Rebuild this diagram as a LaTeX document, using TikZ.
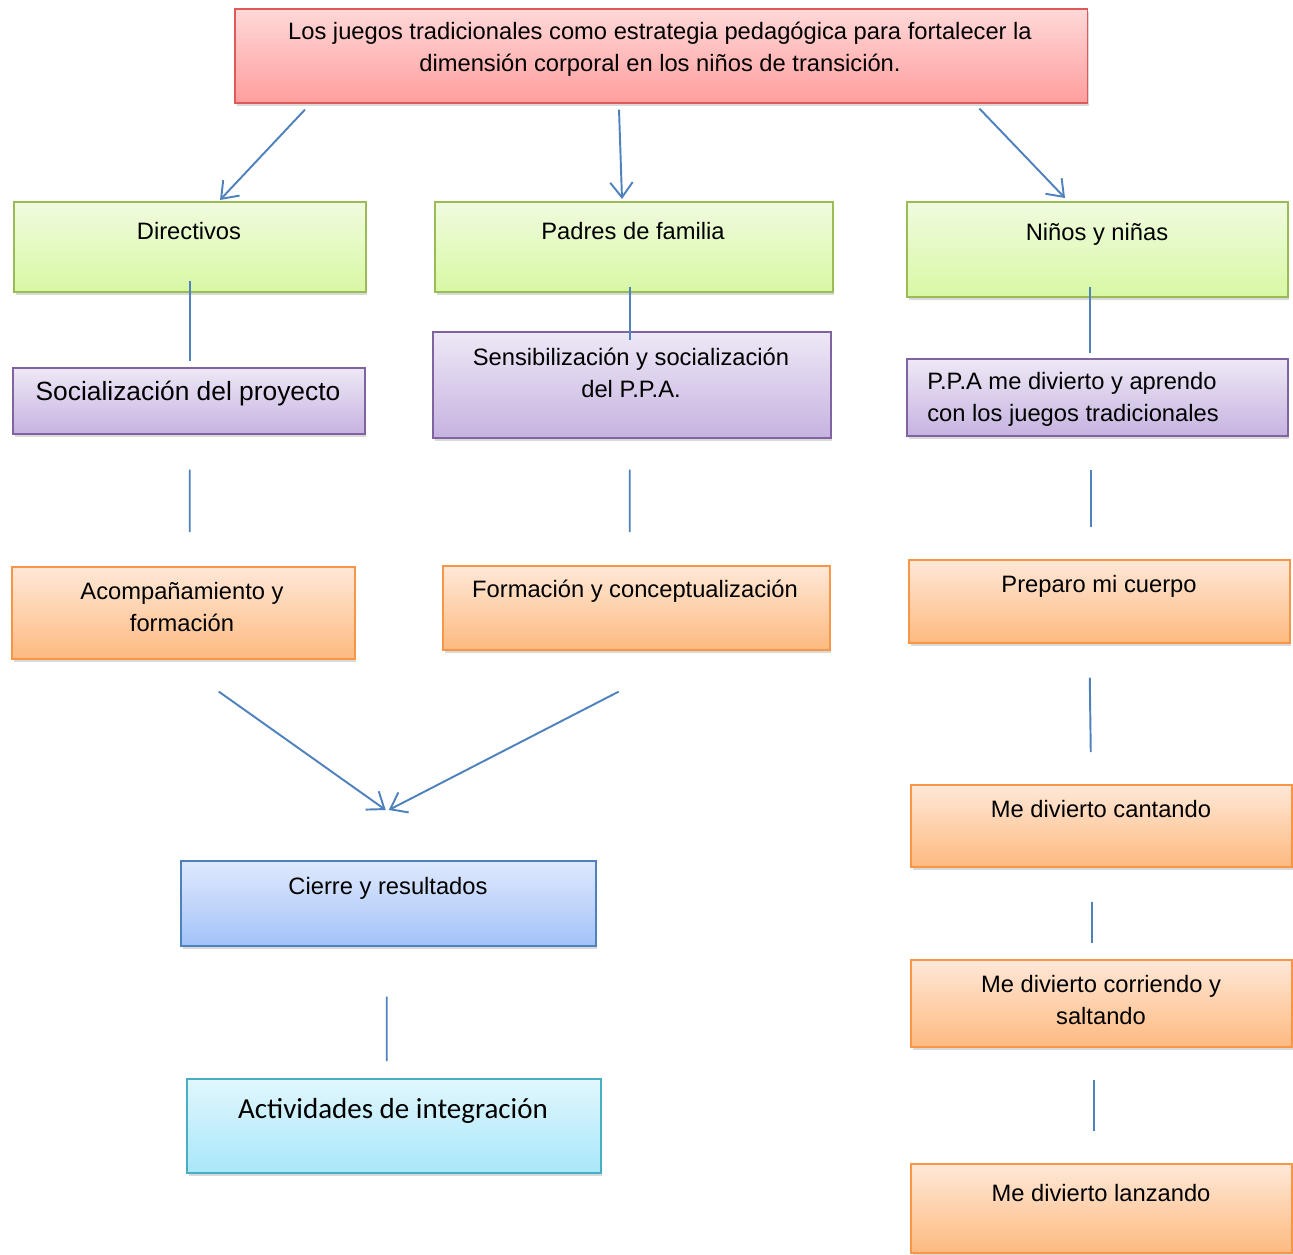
\documentclass[tikz,border=0pt]{standalone}
\usepackage{fontspec}
\setmainfont{Liberation Sans}
\newfontfamily\calibri{Carlito}
\usepackage{tikz}
\usetikzlibrary{arrows.meta,shadows}

\definecolor{linea}{HTML}{4F81BD}
\definecolor{bRojo}{HTML}{E05A5A}
\definecolor{bVerde}{HTML}{9BBB59}
\definecolor{bMorado}{HTML}{8064A2}
\definecolor{bNaranja}{HTML}{F79646}
\definecolor{bAzul}{HTML}{4F81BD}
\definecolor{bCian}{HTML}{4BACC6}
\definecolor{rojoA}{HTML}{FFD8D8}
\definecolor{rojoB}{HTML}{FF9E9E}
\definecolor{verdeA}{HTML}{F0FBDF}
\definecolor{verdeB}{HTML}{D8F8A4}
\definecolor{moradoA}{HTML}{EEE8F6}
\definecolor{moradoB}{HTML}{C6B3E0}
\definecolor{naranjaA}{HTML}{FFE8D8}
\definecolor{naranjaB}{HTML}{FDBA80}
\definecolor{azulA}{HTML}{DFE9FD}
\definecolor{azulB}{HTML}{A3C2F8}
\definecolor{cianA}{HTML}{E1F7FD}
\definecolor{cianB}{HTML}{A8E7FA}

\begin{document}
\begin{tikzpicture}[x=0.02cm,y=-0.02cm,
  caja/.style={draw,line width=0.9pt,inner sep=0pt,anchor=north west,
    drop shadow={opacity=0.3,shadow xshift=1pt,shadow yshift=-1.6pt}},
  roja/.style={caja,draw=bRojo,top color=rojoA,bottom color=rojoB},
  verde/.style={caja,draw=bVerde,top color=verdeA,bottom color=verdeB},
  morada/.style={caja,draw=bMorado,top color=moradoA,bottom color=moradoB},
  naranja/.style={caja,draw=bNaranja,top color=naranjaA,bottom color=naranjaB},
  azul/.style={caja,draw=bAzul,top color=azulA,bottom color=azulB},
  cian/.style={caja,draw=bCian,top color=cianA,bottom color=cianB},
  txt/.style={font=\fontsize{13.5}{18.2}\selectfont,align=center,inner sep=0pt},
  con/.style={draw=linea,line width=1.1pt},
  flecha/.style={con,-{Straight Barb[length=3mm,width=4.5mm]}}]
\useasboundingbox (0,0) rectangle (1293,1254);

% cajas
\node[roja,minimum width=17.06cm,minimum height=1.88cm] (tema) at (234,8) {};
\node[verde,minimum width=7.04cm,minimum height=1.8cm] (dir) at (13,201) {};
\node[verde,minimum width=7.96cm,minimum height=1.8cm] (pad) at (434,201) {};
\node[verde,minimum width=7.62cm,minimum height=1.9cm] (nin) at (906,201) {};
\node[morada,minimum width=7.04cm,minimum height=1.32cm] (soc) at (12,367) {};
\node[morada,minimum width=7.96cm,minimum height=2.12cm] (sen) at (432,331) {};
\node[morada,minimum width=7.62cm,minimum height=1.54cm] (ppa) at (906,358) {};
\node[naranja,minimum width=6.86cm,minimum height=1.84cm] (aco) at (11,566) {};
\node[naranja,minimum width=7.74cm,minimum height=1.68cm] (form) at (442,565) {};
\node[naranja,minimum width=7.62cm,minimum height=1.66cm] (pre) at (908,559) {};
\node[naranja,minimum width=7.62cm,minimum height=1.64cm] (can) at (910,784) {};
\node[naranja,minimum width=7.62cm,minimum height=1.74cm] (cor) at (910,959) {};
\node[naranja,minimum width=7.62cm,minimum height=1.78cm] (lan) at (910,1163) {};
\node[azul,minimum width=8.3cm,minimum height=1.7cm] (cie) at (180,860) {};
\node[cian,minimum width=8.28cm,minimum height=1.88cm] (act) at (186,1078) {};

% textos
\node[txt] (tema-t) at (660,49) {Los juegos tradicionales como estrategia pedagógica para fortalecer la\\dimensión corporal en los niños de transición.};
\node[txt] (dir-t) at (189,231) {Directivos};
\node[txt] (pad-t) at (633,231) {Padres de familia};
\node[txt] (nin-t) at (1097,234) {Niños y niñas};
\node[txt,font=\fontsize{15}{18}\selectfont] (soc-t) at (188,394) {Socialización del proyecto};
\node[txt] (sen-t) at (631,373) {Sensibilización y socialización\\del P.P.A.};
\node[txt,align=left,anchor=west] (ppa-t) at (927,399) {P.P.A me divierto y aprendo\\con los juegos tradicionales};
\node[txt] (aco-t) at (182,607) {Acompañamiento y\\formación};
\node[txt] (form-t) at (635,591) {Formación y conceptualización};
\node[txt] (pre-t) at (1099,586) {Preparo mi cuerpo};
\node[txt] (can-t) at (1101,809) {Me divierto cantando};
\node[txt] (cor-t) at (1101,1000) {Me divierto corriendo y\\saltando};
\node[txt] (lan-t) at (1101,1193) {Me divierto lanzando};
\node[txt] (cie-t) at (388,888) {Cierre y resultados};
\node[txt,font=\calibri\fontsize{16.5}{20}\selectfont] (act-t) at (393,1111) {Actividades de integración};

% flechas
\draw[flecha] ([shift={(71,6)}]tema.south west) -- ([shift={(207,-1)}]dir.north west);
\draw[flecha] ([shift={(385,6)}]tema.south west) -- ([shift={(188,-2)}]pad.north west);
\draw[flecha] ([shift={(-109,5)}]tema.south east) -- ([shift={(159,-3)}]nin.north west);
\draw[flecha] ([shift={(35.5,32)}]aco.south) -- ([shift={(-2.5,-50)}]cie.north);
\draw[flecha] ([shift={(-17.5,41)}]form.south) -- ([shift={(0.5,-50)}]cie.north);

% lineas
\draw[con] ([shift={(0,-12)}]dir.south) -- ([shift={(1,-6)}]soc.north);
\draw[con] ([shift={(-4,-6)}]pad.south) -- ([shift={(-2,9)}]sen.north);
\draw[con] ([shift={(-7.5,-11)}]nin.south) -- ([shift={(-7.5,-5)}]ppa.north);
\draw[con] ([shift={(1,35)}]soc.south) -- ([shift={(6.5,-34)}]aco.north);
\draw[con] ([shift={(-2,31)}]sen.south) -- ([shift={(-6.5,-33)}]form.north);
\draw[con] ([shift={(-6.5,33)}]ppa.south) -- ([shift={(-8.5,-32)}]pre.north);
\draw[con] ([shift={(-9.5,34)}]pre.south) -- ([shift={(-10.5,-32)}]can.north);
\draw[con] ([shift={(-9.5,34)}]can.south) -- ([shift={(-9.5,-16)}]cor.north);
\draw[con] ([shift={(-7.5,32)}]cor.south) -- ([shift={(-7.5,-32)}]lan.north);
\draw[con] ([shift={(-1.5,50)}]cie.south) -- ([shift={(-7,-17)}]act.north);

\end{tikzpicture}
\end{document}
